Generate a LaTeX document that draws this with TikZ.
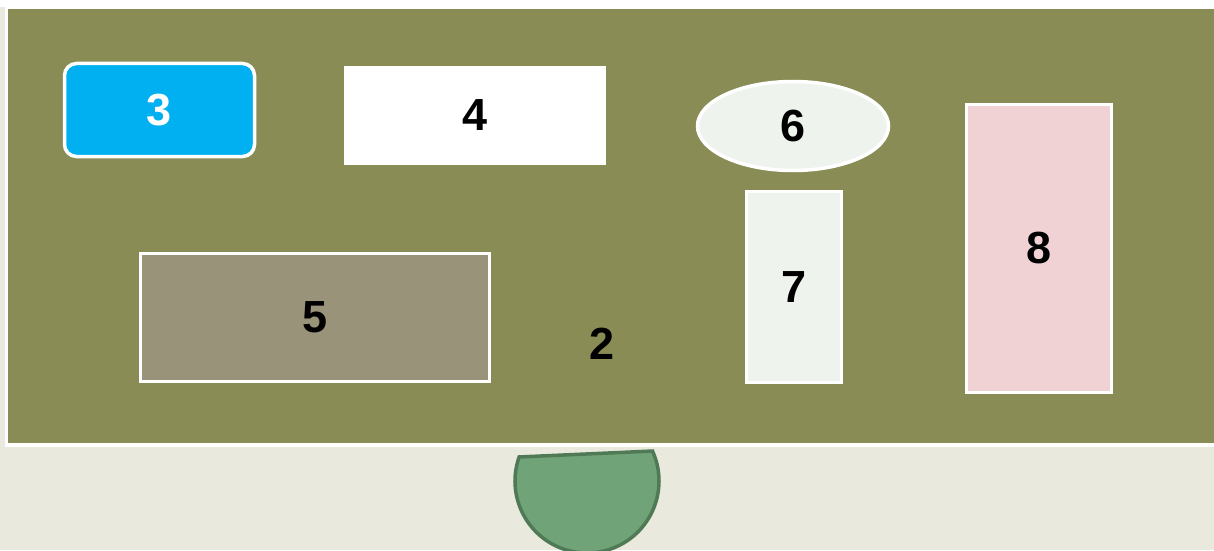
\documentclass[tikz,border=0pt]{standalone}
\usepackage{fontspec}
\setmainfont{Liberation Sans}
\usetikzlibrary{shapes.geometric}
\definecolor{bgbeige}{HTML}{E9E9DE}
\definecolor{olive}{HTML}{8A8C55}
\definecolor{skyblue}{HTML}{00B0F0}
\definecolor{paleg}{HTML}{EEF3EE}
\definecolor{pinkish}{HTML}{F0D2D4}
\definecolor{greyolive}{HTML}{99937A}
\definecolor{leaf}{HTML}{71A378}
\definecolor{leafdark}{HTML}{507A55}
\tikzset{
  lbl/.style={font=\fontsize{45}{48}\selectfont\bfseries},
  zone/.style={draw=white, line width=3.5pt, inner sep=0pt, lbl, text=black},
}
\begin{document}
\begin{tikzpicture}[x=1pt,y=1pt]
\useasboundingbox (0,0) rectangle (1214,550);
\fill[bgbeige] (0,0) rectangle (1214,550);
\fill[white] (0,542.5) rectangle (1214,550);
\draw[fill=olive, draw=white, line width=3.5pt] (6.5,542.5) rectangle (1230,105);
\node[zone, fill=skyblue, rounded corners=12pt, minimum width=190pt, minimum height=93pt, text=white] (n3) at (159.5,440) {3};
\node[zone, fill=white, minimum width=259pt, minimum height=96pt] (n4) at (475,434.5) {4};
\node[zone, ellipse, fill=paleg, minimum width=191pt, minimum height=89pt] (n6) at (793,424) {6};
\node[zone, fill=paleg, minimum width=95pt, minimum height=191pt] (n7) at (794,263) {7};
\node[zone, fill=pinkish, minimum width=145pt, minimum height=288pt] (n8) at (1039,301.5) {8};
\node[zone, fill=greyolive, minimum width=349pt, minimum height=128pt] (n5) at (315,232.5) {5};
\node[lbl] (n2) at (602,206) {2};
\coordinate (c) at (587,69);
\draw[fill=leaf, draw=leafdark, line width=3.5pt] (c) ++(160.5:72) arc[start angle=160.5, end angle=384.6, radius=72] -- cycle;
\end{tikzpicture}
\end{document}
